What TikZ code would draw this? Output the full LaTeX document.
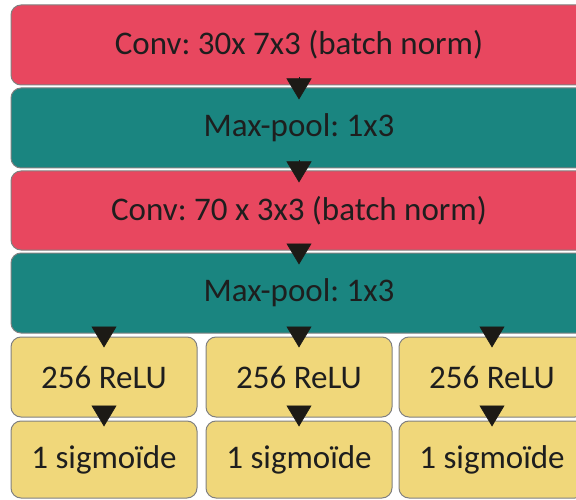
\documentclass[tikz,border=0pt]{standalone}
\usepackage{fontspec}
\setmainfont{Carlito}
\usetikzlibrary{arrows.meta,positioning}
\definecolor{convred}{RGB}{232,71,95}
\definecolor{poolteal}{RGB}{26,133,128}
\definecolor{denseyellow}{RGB}{240,215,122}
\definecolor{edgegray}{RGB}{128,128,128}
\definecolor{txtdark}{RGB}{30,30,30}
\definecolor{tipdark}{RGB}{28,26,22}
\tikzset{every node/.style={font=\fontsize{33}{38}\selectfont\frenchspacing, text=txtdark}}

\begin{document}
\begin{tikzpicture}[x=1pt, y=-1pt,
  layer/.style={draw=edgegray, line width=1pt, rounded corners=10pt,
    minimum width=576pt, minimum height=80pt, inner sep=0pt},
  convbox/.style={layer, fill=convred},
  poolbox/.style={layer, fill=poolteal},
  densebox/.style={layer, fill=denseyellow, minimum width=186pt},
  tip/.style={-{Triangle[length=21pt, width=25pt]}, draw=tipdark, line width=0.5pt}]
  \useasboundingbox[clip] (0,0) rectangle (576,500);
  % main stack
  \node[convbox] (conv1) at (299,45) {Conv: 30x 7x3 (batch norm)};
  \node[poolbox] (pool1) at (299,128) {Max-pool: 1x3};
  \node[convbox, minimum height=79pt] (conv2) at (299,210.5) {Conv: 70 x 3x3 (batch norm)};
  \node[poolbox] (pool2) at (299,293) {Max-pool: 1x3};
  % three heads
  \foreach \i/\x in {1/104, 2/299, 3/492} {
    \node[densebox] (relu\i) at (\x,377) {256 ReLU};
    \node[densebox, minimum height=77pt] (sig\i) at (\x,459.5) {1 sigmo\"ide};
  }
  % arrowheads
  \draw[tip] ([yshift=8pt]conv1.south) -- ([yshift=-12pt]pool1.north);
  \draw[tip] ([yshift=8pt]pool1.south) -- ([yshift=-12pt]conv2.north);
  \draw[tip] ([yshift=7pt]conv2.south) -- ([yshift=-12pt]pool2.north);
  \foreach \i in {1,2,3} {
    \draw[tip] ([yshift=6pt]relu\i.north |- pool2.south) -- ([yshift=-11pt]relu\i.north);
    \draw[tip] ([yshift=11pt]relu\i.south) -- ([yshift=-6pt]sig\i.north);
  }
\end{tikzpicture}
\end{document}
